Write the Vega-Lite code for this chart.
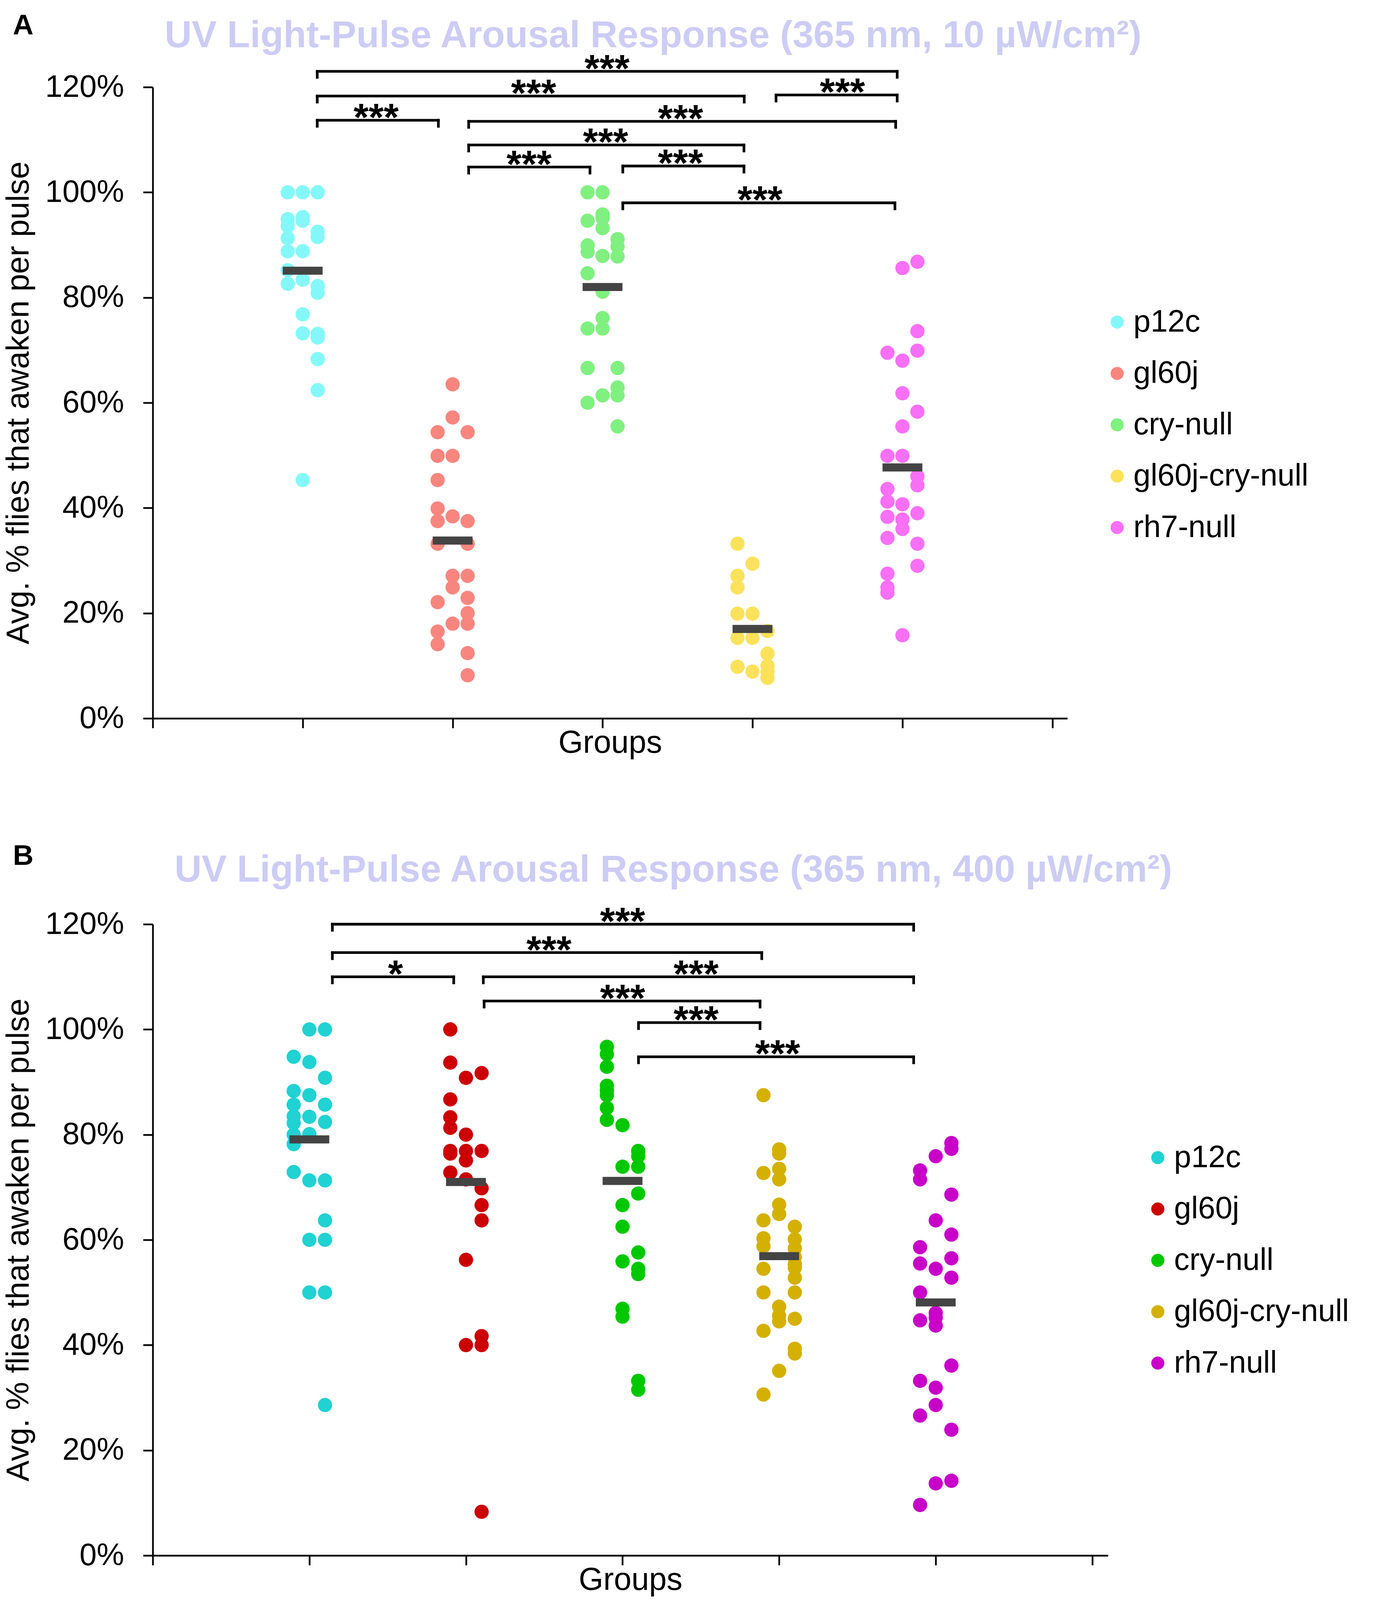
{
  "$schema": "https://vega.github.io/schema/vega-lite/v6.json",
  "padding": {"left": 7, "top": 29, "right": 0, "bottom": 60},
  "background": "white",
  "config": {
    "font": "Liberation Sans",
    "view": {"stroke": null},
    "axis": {"grid": false, "domainColor": "black", "domainWidth": 4.4, "tickColor": "black", "tickWidth": 4.4, "tickSize": 24.7, "titleColor": "black", "labelColor": "black", "titleFontWeight": "normal", "titleFont": "Liberation Sans", "labelFont": "Liberation Sans", "labelLimit": 2000},
    "axisX": {"labels": false, "titleFontSize": 81, "titlePadding": -3},
    "axisY": {"labelExpr": "datum.value + '%'", "labelFontSize": 79, "labelPadding": 49, "titleFontSize": 81, "titlePadding": 102},
    "legend": {"title": null, "labelFontSize": 79, "labelFont": "Liberation Sans", "labelColor": "black", "labelLimit": 2000, "symbolType": "circle", "symbolSize": 1128, "symbolStrokeWidth": 0, "symbolOpacity": 1, "rowPadding": 51.5, "labelOffset": 2, "padding": 0, "orient": "none"},
    "title": {"font": "Liberation Sans"}
  },
  "spacing": 213,
  "resolve": {"scale": {"x": "independent", "y": "independent", "color": "independent"}, "legend": {"color": "independent"}, "axis": {"x": "independent", "y": "independent"}},
  "datasets": {
    "pointsA": [
      {"group": "p12c", "x": 0.9, "pct": 100}, {"group": "p12c", "x": 1.0, "pct": 100}, {"group": "p12c", "x": 1.1, "pct": 100},
      {"group": "p12c", "x": 0.9, "pct": 94.9}, {"group": "p12c", "x": 0.9, "pct": 93.6}, {"group": "p12c", "x": 1.0, "pct": 95.3}, {"group": "p12c", "x": 1.0, "pct": 94.6},
      {"group": "p12c", "x": 1.1, "pct": 92.5}, {"group": "p12c", "x": 1.1, "pct": 91.5}, {"group": "p12c", "x": 0.9, "pct": 91.3},
      {"group": "p12c", "x": 0.9, "pct": 88.8}, {"group": "p12c", "x": 1.0, "pct": 88.8}, {"group": "p12c", "x": 0.9, "pct": 85.2},
      {"group": "p12c", "x": 1.0, "pct": 83.4}, {"group": "p12c", "x": 0.9, "pct": 82.6}, {"group": "p12c", "x": 1.1, "pct": 82.2}, {"group": "p12c", "x": 1.1, "pct": 80.9},
      {"group": "p12c", "x": 1.0, "pct": 76.8}, {"group": "p12c", "x": 1.0, "pct": 73.2}, {"group": "p12c", "x": 1.1, "pct": 73.1}, {"group": "p12c", "x": 1.1, "pct": 72.4},
      {"group": "p12c", "x": 1.1, "pct": 68.3}, {"group": "p12c", "x": 1.1, "pct": 62.4}, {"group": "p12c", "x": 1.0, "pct": 45.3},
      {"group": "gl60j", "x": 2.0, "pct": 63.5}, {"group": "gl60j", "x": 2.0, "pct": 57.2}, {"group": "gl60j", "x": 1.9, "pct": 54.4}, {"group": "gl60j", "x": 2.1, "pct": 54.4},
      {"group": "gl60j", "x": 1.9, "pct": 49.9}, {"group": "gl60j", "x": 2.0, "pct": 49.9}, {"group": "gl60j", "x": 1.9, "pct": 45.3}, {"group": "gl60j", "x": 1.9, "pct": 39.9},
      {"group": "gl60j", "x": 1.9, "pct": 37.5}, {"group": "gl60j", "x": 2.0, "pct": 38.4}, {"group": "gl60j", "x": 2.1, "pct": 37.5}, {"group": "gl60j", "x": 1.9, "pct": 33.2},
      {"group": "gl60j", "x": 2.1, "pct": 33.2}, {"group": "gl60j", "x": 2.0, "pct": 27.1}, {"group": "gl60j", "x": 2.1, "pct": 27.1}, {"group": "gl60j", "x": 2.0, "pct": 24.9},
      {"group": "gl60j", "x": 2.1, "pct": 22.9}, {"group": "gl60j", "x": 1.9, "pct": 22.1}, {"group": "gl60j", "x": 2.1, "pct": 20.0}, {"group": "gl60j", "x": 2.1, "pct": 18.0},
      {"group": "gl60j", "x": 2.0, "pct": 18.0}, {"group": "gl60j", "x": 1.9, "pct": 16.5}, {"group": "gl60j", "x": 1.9, "pct": 14.1}, {"group": "gl60j", "x": 2.1, "pct": 12.4},
      {"group": "gl60j", "x": 2.1, "pct": 8.2},
      {"group": "cry-null", "x": 2.9, "pct": 100}, {"group": "cry-null", "x": 3.0, "pct": 100}, {"group": "cry-null", "x": 3.0, "pct": 95.8}, {"group": "cry-null", "x": 3.0, "pct": 95.1},
      {"group": "cry-null", "x": 2.9, "pct": 94.6}, {"group": "cry-null", "x": 3.0, "pct": 93.2}, {"group": "cry-null", "x": 3.1, "pct": 91.1}, {"group": "cry-null", "x": 3.1, "pct": 89.7},
      {"group": "cry-null", "x": 3.1, "pct": 87.8}, {"group": "cry-null", "x": 2.9, "pct": 89.9}, {"group": "cry-null", "x": 2.9, "pct": 88.7}, {"group": "cry-null", "x": 3.0, "pct": 87.9},
      {"group": "cry-null", "x": 2.9, "pct": 84.6}, {"group": "cry-null", "x": 3.0, "pct": 81.1}, {"group": "cry-null", "x": 3.0, "pct": 76.1}, {"group": "cry-null", "x": 3.0, "pct": 74.1},
      {"group": "cry-null", "x": 2.9, "pct": 74.1}, {"group": "cry-null", "x": 2.9, "pct": 66.6}, {"group": "cry-null", "x": 3.1, "pct": 66.6}, {"group": "cry-null", "x": 3.0, "pct": 61.4},
      {"group": "cry-null", "x": 3.1, "pct": 62.9}, {"group": "cry-null", "x": 3.1, "pct": 61.4}, {"group": "cry-null", "x": 2.9, "pct": 60.0}, {"group": "cry-null", "x": 3.1, "pct": 55.5},
      {"group": "gl60j-cry-null", "x": 3.9, "pct": 33.2}, {"group": "gl60j-cry-null", "x": 4.0, "pct": 29.4}, {"group": "gl60j-cry-null", "x": 3.9, "pct": 27.1}, {"group": "gl60j-cry-null", "x": 3.9, "pct": 24.9},
      {"group": "gl60j-cry-null", "x": 3.9, "pct": 19.9}, {"group": "gl60j-cry-null", "x": 4.0, "pct": 19.9}, {"group": "gl60j-cry-null", "x": 4.1, "pct": 16.6}, {"group": "gl60j-cry-null", "x": 3.9, "pct": 15.3},
      {"group": "gl60j-cry-null", "x": 4.0, "pct": 15.3}, {"group": "gl60j-cry-null", "x": 4.1, "pct": 12.3}, {"group": "gl60j-cry-null", "x": 3.9, "pct": 9.8}, {"group": "gl60j-cry-null", "x": 4.0, "pct": 8.9},
      {"group": "gl60j-cry-null", "x": 4.1, "pct": 10.0}, {"group": "gl60j-cry-null", "x": 4.1, "pct": 8.9}, {"group": "gl60j-cry-null", "x": 4.1, "pct": 7.7},
      {"group": "rh7-null", "x": 5.1, "pct": 86.8}, {"group": "rh7-null", "x": 5.0, "pct": 85.6}, {"group": "rh7-null", "x": 5.1, "pct": 73.6}, {"group": "rh7-null", "x": 4.9, "pct": 69.5},
      {"group": "rh7-null", "x": 5.1, "pct": 69.9}, {"group": "rh7-null", "x": 5.0, "pct": 68.0}, {"group": "rh7-null", "x": 5.0, "pct": 61.8}, {"group": "rh7-null", "x": 5.1, "pct": 58.3},
      {"group": "rh7-null", "x": 5.0, "pct": 55.5}, {"group": "rh7-null", "x": 4.9, "pct": 49.9}, {"group": "rh7-null", "x": 5.0, "pct": 49.9}, {"group": "rh7-null", "x": 5.1, "pct": 46.0},
      {"group": "rh7-null", "x": 5.1, "pct": 44.3}, {"group": "rh7-null", "x": 4.9, "pct": 43.6}, {"group": "rh7-null", "x": 4.9, "pct": 41.2}, {"group": "rh7-null", "x": 5.0, "pct": 40.7},
      {"group": "rh7-null", "x": 4.9, "pct": 38.3}, {"group": "rh7-null", "x": 5.0, "pct": 37.8}, {"group": "rh7-null", "x": 5.0, "pct": 36.0}, {"group": "rh7-null", "x": 5.1, "pct": 39.0},
      {"group": "rh7-null", "x": 4.9, "pct": 34.3}, {"group": "rh7-null", "x": 5.1, "pct": 33.2}, {"group": "rh7-null", "x": 5.1, "pct": 29.0}, {"group": "rh7-null", "x": 4.9, "pct": 27.5},
      {"group": "rh7-null", "x": 4.9, "pct": 24.9}, {"group": "rh7-null", "x": 4.9, "pct": 23.9}, {"group": "rh7-null", "x": 5.0, "pct": 15.8}
    ],
    "medA": [
      {"group": "p12c", "x": 1, "median": 85.1}, {"group": "gl60j", "x": 2, "median": 33.8}, {"group": "cry-null", "x": 3, "median": 82.0},
      {"group": "gl60j-cry-null", "x": 4, "median": 17.0}, {"group": "rh7-null", "x": 5, "median": 47.7}
    ],
    "brA": [
      {"x1": 1.097, "x2": 4.965, "y": 123.0, "lo": 121.85, "xm": 3.03, "label": "***"},
      {"x1": 1.097, "x2": 3.945, "y": 118.3, "lo": 117.15, "xm": 2.54, "label": "***"},
      {"x1": 4.157, "x2": 4.965, "y": 118.5, "lo": 117.35, "xm": 4.6, "label": "***"},
      {"x1": 1.097, "x2": 1.905, "y": 113.7, "lo": 112.55, "xm": 1.49, "label": "***"},
      {"x1": 2.107, "x2": 4.955, "y": 113.5, "lo": 112.35, "xm": 3.52, "label": "***"},
      {"x1": 2.107, "x2": 3.943, "y": 109.0, "lo": 107.85, "xm": 3.02, "label": "***"},
      {"x1": 2.107, "x2": 2.916, "y": 104.8, "lo": 103.65, "xm": 2.51, "label": "***"},
      {"x1": 3.135, "x2": 3.943, "y": 105.0, "lo": 103.85, "xm": 3.52, "label": "***"},
      {"x1": 3.135, "x2": 4.95, "y": 98.0, "lo": 96.85, "xm": 4.05, "label": "***"}
    ],
    "pointsB": [
      {"group": "p12c", "x": 1.0, "pct": 100}, {"group": "p12c", "x": 1.1, "pct": 100}, {"group": "p12c", "x": 0.9, "pct": 94.8}, {"group": "p12c", "x": 1.0, "pct": 93.8},
      {"group": "p12c", "x": 1.1, "pct": 90.8}, {"group": "p12c", "x": 0.9, "pct": 88.3}, {"group": "p12c", "x": 1.0, "pct": 87.5}, {"group": "p12c", "x": 0.9, "pct": 85.7},
      {"group": "p12c", "x": 1.1, "pct": 85.7}, {"group": "p12c", "x": 0.9, "pct": 83.5}, {"group": "p12c", "x": 0.9, "pct": 82.2}, {"group": "p12c", "x": 0.9, "pct": 80.0},
      {"group": "p12c", "x": 0.9, "pct": 78.2}, {"group": "p12c", "x": 1.0, "pct": 83.4}, {"group": "p12c", "x": 1.1, "pct": 82.4}, {"group": "p12c", "x": 1.0, "pct": 80.1},
      {"group": "p12c", "x": 0.9, "pct": 72.9}, {"group": "p12c", "x": 1.0, "pct": 71.3}, {"group": "p12c", "x": 1.1, "pct": 71.3}, {"group": "p12c", "x": 1.1, "pct": 63.7},
      {"group": "p12c", "x": 1.0, "pct": 60.0}, {"group": "p12c", "x": 1.1, "pct": 60.0}, {"group": "p12c", "x": 1.0, "pct": 50.0}, {"group": "p12c", "x": 1.1, "pct": 50.0},
      {"group": "p12c", "x": 1.1, "pct": 28.6},
      {"group": "gl60j", "x": 1.9, "pct": 100}, {"group": "gl60j", "x": 1.9, "pct": 93.7}, {"group": "gl60j", "x": 2.0, "pct": 90.8}, {"group": "gl60j", "x": 2.1, "pct": 91.7},
      {"group": "gl60j", "x": 1.9, "pct": 86.7}, {"group": "gl60j", "x": 1.9, "pct": 83.3}, {"group": "gl60j", "x": 1.9, "pct": 81.3}, {"group": "gl60j", "x": 2.0, "pct": 80.0},
      {"group": "gl60j", "x": 1.9, "pct": 76.9}, {"group": "gl60j", "x": 1.9, "pct": 76.4}, {"group": "gl60j", "x": 2.0, "pct": 76.9}, {"group": "gl60j", "x": 2.1, "pct": 76.9},
      {"group": "gl60j", "x": 2.0, "pct": 75.1}, {"group": "gl60j", "x": 1.9, "pct": 72.8}, {"group": "gl60j", "x": 2.0, "pct": 71.5}, {"group": "gl60j", "x": 2.1, "pct": 69.8},
      {"group": "gl60j", "x": 2.1, "pct": 66.6}, {"group": "gl60j", "x": 2.1, "pct": 63.7}, {"group": "gl60j", "x": 2.0, "pct": 56.2}, {"group": "gl60j", "x": 2.1, "pct": 41.7},
      {"group": "gl60j", "x": 2.0, "pct": 40.0}, {"group": "gl60j", "x": 2.1, "pct": 40.0}, {"group": "gl60j", "x": 2.1, "pct": 8.3},
      {"group": "cry-null", "x": 2.9, "pct": 96.7}, {"group": "cry-null", "x": 2.9, "pct": 95.3}, {"group": "cry-null", "x": 2.9, "pct": 92.9}, {"group": "cry-null", "x": 2.9, "pct": 89.3},
      {"group": "cry-null", "x": 2.9, "pct": 88.4}, {"group": "cry-null", "x": 2.9, "pct": 87.5}, {"group": "cry-null", "x": 2.9, "pct": 85.1}, {"group": "cry-null", "x": 2.9, "pct": 82.8},
      {"group": "cry-null", "x": 3.0, "pct": 81.8}, {"group": "cry-null", "x": 3.1, "pct": 76.9}, {"group": "cry-null", "x": 3.1, "pct": 75.9}, {"group": "cry-null", "x": 3.0, "pct": 73.9},
      {"group": "cry-null", "x": 3.1, "pct": 73.9}, {"group": "cry-null", "x": 3.1, "pct": 68.8}, {"group": "cry-null", "x": 3.0, "pct": 66.6}, {"group": "cry-null", "x": 3.0, "pct": 62.5},
      {"group": "cry-null", "x": 3.1, "pct": 57.6}, {"group": "cry-null", "x": 3.0, "pct": 55.9}, {"group": "cry-null", "x": 3.1, "pct": 54.5}, {"group": "cry-null", "x": 3.1, "pct": 53.5},
      {"group": "cry-null", "x": 3.0, "pct": 46.9}, {"group": "cry-null", "x": 3.0, "pct": 45.4}, {"group": "cry-null", "x": 3.1, "pct": 33.2}, {"group": "cry-null", "x": 3.1, "pct": 31.5},
      {"group": "gl60j-cry-null", "x": 3.9, "pct": 87.5}, {"group": "gl60j-cry-null", "x": 4.0, "pct": 77.2}, {"group": "gl60j-cry-null", "x": 4.0, "pct": 76.4}, {"group": "gl60j-cry-null", "x": 3.9, "pct": 72.7},
      {"group": "gl60j-cry-null", "x": 4.0, "pct": 73.5}, {"group": "gl60j-cry-null", "x": 4.0, "pct": 71.5}, {"group": "gl60j-cry-null", "x": 4.0, "pct": 66.7}, {"group": "gl60j-cry-null", "x": 4.0, "pct": 64.9},
      {"group": "gl60j-cry-null", "x": 3.9, "pct": 63.7}, {"group": "gl60j-cry-null", "x": 4.1, "pct": 62.5}, {"group": "gl60j-cry-null", "x": 3.9, "pct": 60.3}, {"group": "gl60j-cry-null", "x": 3.9, "pct": 58.8},
      {"group": "gl60j-cry-null", "x": 4.1, "pct": 60.1}, {"group": "gl60j-cry-null", "x": 4.1, "pct": 58.4}, {"group": "gl60j-cry-null", "x": 4.1, "pct": 56.7}, {"group": "gl60j-cry-null", "x": 4.1, "pct": 55.4},
      {"group": "gl60j-cry-null", "x": 4.1, "pct": 54.7}, {"group": "gl60j-cry-null", "x": 3.9, "pct": 54.5}, {"group": "gl60j-cry-null", "x": 4.1, "pct": 52.8}, {"group": "gl60j-cry-null", "x": 3.9, "pct": 50.0},
      {"group": "gl60j-cry-null", "x": 4.1, "pct": 50.0}, {"group": "gl60j-cry-null", "x": 4.0, "pct": 47.3}, {"group": "gl60j-cry-null", "x": 4.0, "pct": 45.6}, {"group": "gl60j-cry-null", "x": 4.0, "pct": 44.5},
      {"group": "gl60j-cry-null", "x": 4.1, "pct": 45.0}, {"group": "gl60j-cry-null", "x": 3.9, "pct": 42.7}, {"group": "gl60j-cry-null", "x": 4.1, "pct": 39.3}, {"group": "gl60j-cry-null", "x": 4.1, "pct": 38.4},
      {"group": "gl60j-cry-null", "x": 4.0, "pct": 35.1}, {"group": "gl60j-cry-null", "x": 3.9, "pct": 30.6},
      {"group": "rh7-null", "x": 5.1, "pct": 78.4}, {"group": "rh7-null", "x": 5.1, "pct": 77.3}, {"group": "rh7-null", "x": 5.0, "pct": 75.9}, {"group": "rh7-null", "x": 4.9, "pct": 73.2},
      {"group": "rh7-null", "x": 4.9, "pct": 71.5}, {"group": "rh7-null", "x": 5.1, "pct": 68.6}, {"group": "rh7-null", "x": 5.0, "pct": 63.7}, {"group": "rh7-null", "x": 5.1, "pct": 61.0},
      {"group": "rh7-null", "x": 4.9, "pct": 58.6}, {"group": "rh7-null", "x": 5.1, "pct": 56.5}, {"group": "rh7-null", "x": 4.9, "pct": 55.5}, {"group": "rh7-null", "x": 5.0, "pct": 54.5},
      {"group": "rh7-null", "x": 5.1, "pct": 52.8}, {"group": "rh7-null", "x": 4.9, "pct": 50.0}, {"group": "rh7-null", "x": 5.0, "pct": 46.1}, {"group": "rh7-null", "x": 5.0, "pct": 45.2},
      {"group": "rh7-null", "x": 5.0, "pct": 43.7}, {"group": "rh7-null", "x": 4.9, "pct": 44.7}, {"group": "rh7-null", "x": 5.1, "pct": 36.1}, {"group": "rh7-null", "x": 4.9, "pct": 33.2},
      {"group": "rh7-null", "x": 5.0, "pct": 31.9}, {"group": "rh7-null", "x": 5.0, "pct": 28.6}, {"group": "rh7-null", "x": 4.9, "pct": 26.6}, {"group": "rh7-null", "x": 5.1, "pct": 23.9},
      {"group": "rh7-null", "x": 5.0, "pct": 13.7}, {"group": "rh7-null", "x": 5.1, "pct": 14.2}, {"group": "rh7-null", "x": 4.9, "pct": 9.6}
    ],
    "medB": [
      {"group": "p12c", "x": 1, "median": 79.1}, {"group": "gl60j", "x": 2, "median": 71.0}, {"group": "cry-null", "x": 3, "median": 71.2},
      {"group": "gl60j-cry-null", "x": 4, "median": 56.9}, {"group": "rh7-null", "x": 5, "median": 48.1}
    ],
    "brB": [
      {"x1": 1.147, "x2": 4.859, "y": 120.0, "lo": 118.85, "xm": 3.0, "label": "***"},
      {"x1": 1.147, "x2": 3.889, "y": 114.6, "lo": 113.45, "xm": 2.53, "label": "***"},
      {"x1": 1.147, "x2": 1.922, "y": 110.0, "lo": 108.85, "xm": 1.55, "label": "*"},
      {"x1": 2.111, "x2": 4.859, "y": 110.0, "lo": 108.85, "xm": 3.47, "label": "***"},
      {"x1": 2.116, "x2": 3.878, "y": 105.4, "lo": 104.25, "xm": 3.0, "label": "***"},
      {"x1": 3.102, "x2": 3.878, "y": 101.3, "lo": 100.15, "xm": 3.47, "label": "***"},
      {"x1": 3.102, "x2": 4.859, "y": 94.8, "lo": 93.65, "xm": 3.99, "label": "***"}
    ]
  },
  "vconcat": [
    {
      "title": {"text": "A", "anchor": "start", "frame": "bounds", "fontSize": 73, "fontWeight": "bold", "color": "black", "dx": 26, "dy": 63},
      "vconcat": [
        {
          "width": 2341,
          "height": 1616,
          "title": {"text": "UV Light-Pulse Arousal Response (365 nm, 10 µW/cm²)", "fontSize": 96, "fontWeight": "bold", "color": "#ccccf5", "anchor": "middle", "frame": "group", "offset": -11, "dx": 110},
          "layer": [
            {
              "data": {"name": "pointsA"},
              "mark": {"type": "circle", "size": 1332, "opacity": 1},
              "encoding": {
                "x": {"field": "x", "type": "quantitative", "scale": {"domain": [0, 6.1], "nice": false, "zero": false}, "axis": {"title": "Groups", "values": [0, 1, 2, 3, 4, 5, 6]}},
                "y": {"field": "pct", "type": "quantitative", "scale": {"domain": [0, 120], "nice": false}, "axis": {"title": "Avg. % flies that awaken per pulse", "values": [0, 20, 40, 60, 80, 100, 120]}},
                "color": {"field": "group", "type": "nominal", "scale": {"domain": ["p12c", "gl60j", "cry-null", "gl60j-cry-null", "rh7-null"], "range": ["#84f8f8", "#f8867f", "#80f080", "#fce25a", "#f870f5"]}, "legend": {"orient": "none", "legendX": 2429, "legendY": 562}}
              }
            },
            {
              "data": {"name": "medA"},
              "mark": {"type": "tick", "orient": "horizontal", "color": "#444444", "opacity": 1, "size": 102, "thickness": 20.7},
              "encoding": {"x": {"field": "x", "type": "quantitative"}, "y": {"field": "median", "type": "quantitative"}}
            },
            {
              "data": {"name": "brA"},
              "mark": {"type": "rule", "color": "black", "strokeWidth": 6.8, "strokeCap": "square"},
              "encoding": {"x": {"field": "x1", "type": "quantitative"}, "x2": {"field": "x2"}, "y": {"field": "y", "type": "quantitative"}}
            },
            {
              "data": {"name": "brA"},
              "mark": {"type": "rule", "color": "black", "strokeWidth": 6.8, "strokeCap": "square"},
              "encoding": {"x": {"field": "x1", "type": "quantitative"}, "y": {"field": "y", "type": "quantitative"}, "y2": {"field": "lo"}}
            },
            {
              "data": {"name": "brA"},
              "mark": {"type": "rule", "color": "black", "strokeWidth": 6.8, "strokeCap": "square"},
              "encoding": {"x": {"field": "x2", "type": "quantitative"}, "y": {"field": "y", "type": "quantitative"}, "y2": {"field": "lo"}}
            },
            {
              "data": {"name": "brA"},
              "mark": {"type": "text", "fontSize": 99, "fontWeight": "bold", "color": "black", "align": "center", "baseline": "alphabetic", "dy": 26},
              "encoding": {"x": {"field": "xm", "type": "quantitative"}, "y": {"field": "y", "type": "quantitative"}, "text": {"field": "label"}}
            }
          ]
        }
      ]
    },
    {
      "title": {"text": "B", "anchor": "start", "frame": "bounds", "fontSize": 73, "fontWeight": "bold", "color": "black", "dx": 26, "dy": 53},
      "vconcat": [
        {
          "width": 2445,
          "height": 1616,
          "title": {"text": "UV Light-Pulse Arousal Response (365 nm, 400 µW/cm²)", "fontSize": 96, "fontWeight": "bold", "color": "#ccccf5", "anchor": "middle", "frame": "group", "offset": 36, "dx": 110},
          "layer": [
            {
              "data": {"name": "pointsB"},
              "mark": {"type": "circle", "size": 1332, "opacity": 1},
              "encoding": {
                "x": {"field": "x", "type": "quantitative", "scale": {"domain": [0, 6.1], "nice": false, "zero": false}, "axis": {"title": "Groups", "values": [0, 1, 2, 3, 4, 5, 6]}},
                "y": {"field": "pct", "type": "quantitative", "scale": {"domain": [0, 120], "nice": false}, "axis": {"title": "Avg. % flies that awaken per pulse", "values": [0, 20, 40, 60, 80, 100, 120]}},
                "color": {"field": "group", "type": "nominal", "scale": {"domain": ["p12c", "gl60j", "cry-null", "gl60j-cry-null", "rh7-null"], "range": ["#20d2d2", "#cc0000", "#00c800", "#d4b000", "#c800c8"]}, "legend": {"orient": "none", "legendX": 2533, "legendY": 558}}
              }
            },
            {
              "data": {"name": "medB"},
              "mark": {"type": "tick", "orient": "horizontal", "color": "#444444", "opacity": 1, "size": 102, "thickness": 20.7},
              "encoding": {"x": {"field": "x", "type": "quantitative"}, "y": {"field": "median", "type": "quantitative"}}
            },
            {
              "data": {"name": "brB"},
              "mark": {"type": "rule", "color": "black", "strokeWidth": 6.8, "strokeCap": "square"},
              "encoding": {"x": {"field": "x1", "type": "quantitative"}, "x2": {"field": "x2"}, "y": {"field": "y", "type": "quantitative"}}
            },
            {
              "data": {"name": "brB"},
              "mark": {"type": "rule", "color": "black", "strokeWidth": 6.8, "strokeCap": "square"},
              "encoding": {"x": {"field": "x1", "type": "quantitative"}, "y": {"field": "y", "type": "quantitative"}, "y2": {"field": "lo"}}
            },
            {
              "data": {"name": "brB"},
              "mark": {"type": "rule", "color": "black", "strokeWidth": 6.8, "strokeCap": "square"},
              "encoding": {"x": {"field": "x2", "type": "quantitative"}, "y": {"field": "y", "type": "quantitative"}, "y2": {"field": "lo"}}
            },
            {
              "data": {"name": "brB"},
              "mark": {"type": "text", "fontSize": 99, "fontWeight": "bold", "color": "black", "align": "center", "baseline": "alphabetic", "dy": 26},
              "encoding": {"x": {"field": "xm", "type": "quantitative"}, "y": {"field": "y", "type": "quantitative"}, "text": {"field": "label"}}
            }
          ]
        }
      ]
    }
  ]
}
